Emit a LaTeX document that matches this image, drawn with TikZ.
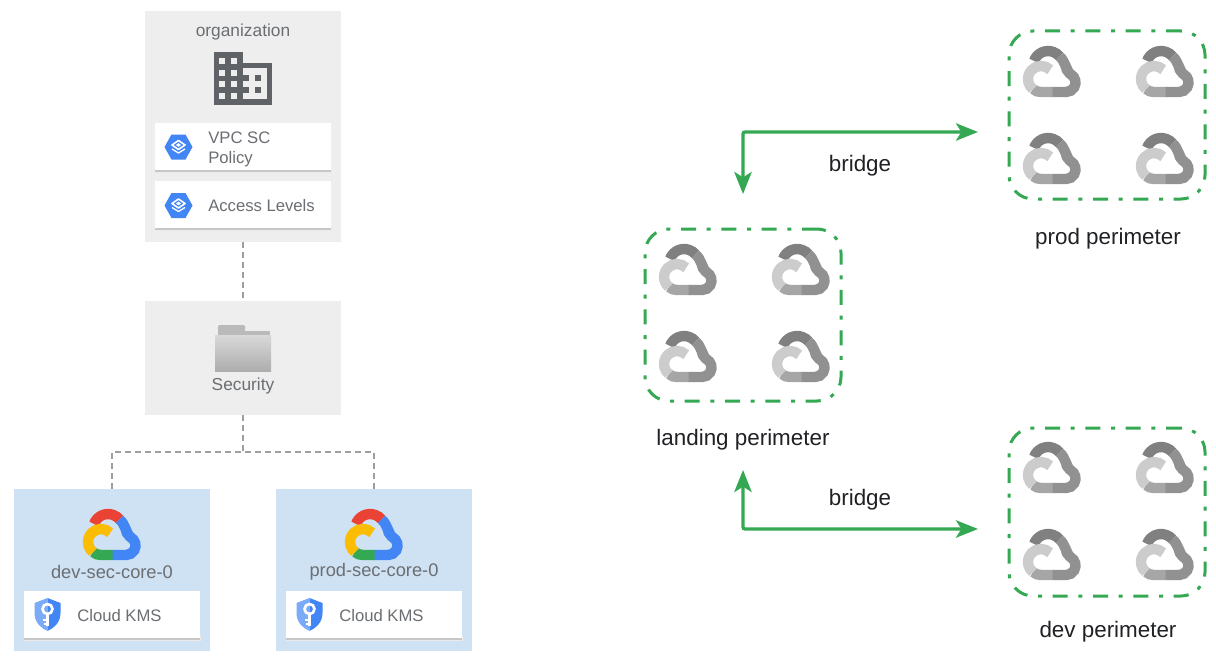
\documentclass[tikz,border=0pt]{standalone}
\usepackage{fontspec}
\setmainfont{Liberation Sans}
\usetikzlibrary{arrows.meta,positioning,calc}
\definecolor{panelgray}{HTML}{EEEEEE}
\definecolor{panelblue}{HTML}{CFE2F3}
\definecolor{gblue}{HTML}{4285F4}
\definecolor{gred}{HTML}{EA4335}
\definecolor{ggreen}{HTML}{34A853}
\definecolor{gyellow}{HTML}{FBBC04}
\definecolor{icondark}{HTML}{5F6368}
\definecolor{lbl}{HTML}{6B6E72}
\definecolor{lbldark}{HTML}{202124}
\definecolor{lineg}{HTML}{9E9E9E}
\newcommand{\cloudicon}[6]{%
 \begin{scope}[shift={(#1,-#2)},line width=7.8pt,line cap=butt]
  \draw[#3] (11,-14.9) arc[start angle=160,end angle=40,radius=15];
  \fill[#4] (37,-12) -- (50,-28) -- (47,-31) .. controls (42,-30.5) and (38.5,-28) .. (38,-22) -- cycle;
  \draw[#4] (36.5,-10.4) .. controls (42,-14.5) and (44,-26.5) .. (47.75,-28.3) arc[start angle=60,end angle=-90,radius=9.5] -- (29,-46);
  \draw[#5] (10,-43) .. controls (12,-45) and (15,-46) .. (18,-46) -- (29.5,-46);
  \draw[#6] (27.2,-23.8) arc[start angle=45,end angle=232,radius=13];
 \end{scope}}
\newcommand{\hexicon}[2]{%
 \begin{scope}[shift={(#1,-#2)}]
  \fill[gblue] (-14,0) -- (-7,12.5) -- (7,12.5) -- (14,0) -- (7,-12.5) -- (-7,-12.5) -- cycle;
  \draw[white,line width=1pt,line join=round] (-6.5,-2) -- (0,-6) -- (6.5,-2);
  \draw[white,line width=1.2pt,line join=round] (-6.5,2) -- (0,6.5) -- (6.5,2) -- (0,-2.5) -- cycle;
  \fill[white] (-2.6,2) -- (0,3.8) -- (2.6,2) -- (0,.2) -- cycle;
 \end{scope}}
\newcommand{\shieldicon}[2]{%
 \begin{scope}[shift={(#1,-#2)}]
  \fill[gblue!70!white] (0,0) -- (-13,-5) -- (-13,-15) .. controls (-13,-24) and (-7,-30) .. (0,-33) -- cycle;
  \fill[gblue] (0,0) -- (13,-5) -- (13,-15) .. controls (13,-24) and (7,-30) .. (0,-33) -- cycle;
  \draw[white,line width=2pt] (0,-11) circle[radius=5];
  \draw[white,line width=2.2pt] (0,-16) -- (0,-28);
  \draw[white,line width=1.8pt] (0,-22) -- (-4.5,-22) (0,-26) -- (-4,-26);
 \end{scope}}
\tikzset{
 x=.75pt,y=.75pt,
 panel/.style={fill=#1,draw=none,inner sep=0pt,outer sep=0pt,anchor=north west},
 card/.style={fill=white,draw=none,inner sep=0pt,outer sep=0pt,anchor=north west,minimum width=132pt,minimum height=35.5pt},
 cardtext/.style={text=lbl,font=\fontsize{12.5pt}{15pt}\selectfont,anchor=west,inner sep=0pt,align=left},
 paneltext/.style={text=lbl,font=\fontsize{13pt}{15pt}\selectfont,inner sep=0pt},
 projtext/.style={text=lbl,font=\fontsize{13.7pt}{15pt}\selectfont,inner sep=0pt},
 bigtext/.style={text=lbldark,font=\fontsize{16.8pt}{18pt}\selectfont,inner sep=0pt},
 perim/.style={draw=ggreen,line width=2.25pt,rounded corners=18pt,dash pattern=on 11.25pt off 8pt on 3pt off 8pt,inner sep=0pt,outer sep=0pt,anchor=north west,minimum width=147pt},
 dashline/.style={draw=lineg,line width=1.1pt,dash pattern=on 4.5pt off 3pt},
 bridgearrow/.style={draw=ggreen,line width=2.5pt,rounded corners=1.5pt,{Stealth[length=16.5pt,width=13pt,inset=4pt]}-{Stealth[length=16.5pt,width=13pt,inset=4pt]}},
}
\begin{document}
\begin{tikzpicture}
\useasboundingbox (0,0) rectangle (1216,-660);
% panels
\node[panel=panelgray,minimum width=147pt,minimum height=173.25pt] (org) at (145,-11) {};
\node[panel=panelgray,minimum width=147pt,minimum height=85.5pt] (sec) at (145,-301) {};
\node[panel=panelblue,minimum width=147pt,minimum height=121.5pt] (dev) at (14,-489) {};
\node[panel=panelblue,minimum width=147pt,minimum height=121.5pt] (prod) at (276,-489) {};
% dashed connectors
\draw[dashline] (org.south) -- (sec.north);
\coordinate (split) at ($(sec.south)+(0,-37)$);
\draw[dashline] (sec.south) -- (split);
\draw[dashline] (dev.north) |- (split) -| (prod.north);
% organization
\node[paneltext] (orgl) at (243,-32) {organization};
\fill[icondark] (214,-52) rectangle (243,-105);
\fill[icondark] (243,-63) rectangle (272,-105);
\fill[panelgray] (243,-68) rectangle (267,-99);
\foreach \yy in {58,70,81,93}{
 \fill[panelgray] (219,-\yy) rectangle +(6,-6);
 \fill[panelgray] (231,-\yy) rectangle +(6,-6);}
\foreach \yy in {75,87}{
 \fill[icondark] (243,-\yy) rectangle +(6,-6);
 \fill[icondark] (255,-\yy) rectangle +(6,-6);}
% cards
\foreach \xx/\yy in {155/123,155/181,24/591,286/591}{
 \fill[black!8] (\xx-.5,-\yy-45) rectangle (\xx+176.5,-\yy-50);
 \fill[black!22] (\xx,-\yy-46) rectangle (\xx+176,-\yy-48.8);
}
\node[card] (c1) at (155,-123) {};
\node[card] (c2) at (155,-181) {};
\node[card] (c3) at (24,-591) {};
\node[card] (c4) at (286,-591) {};
\hexicon{178.5}{147}
\hexicon{178.5}{205.5}
\node[cardtext] (vpc) at (208,-149) {VPC SC\\Policy};
\node[cardtext] (acc) at (208,-206) {Access Levels};
% folder
\fill[black!27,rounded corners=1pt] (218,-325) rectangle (245,-340);
\fill[black!27] (245,-331) rectangle (270,-340);
\shade[top color=black!15,bottom color=black!32] (215,-335) rectangle (271,-371);
\node[paneltext] (secl) at (243,-386) {Security};
% projects
\cloudicon{83}{509}{gred}{gblue}{ggreen}{gyellow}
\cloudicon{345}{509}{gred}{gblue}{ggreen}{gyellow}
\node[projtext] (devl) at (112,-572) {dev-sec-core-0};
\node[projtext] (prodl) at (374,-572) {prod-sec-core-0};
\shieldicon{47.5}{598}
\shieldicon{309.5}{598}
\node[cardtext] (k1) at (77,-616) {Cloud KMS};
\node[cardtext] (k2) at (339,-616) {Cloud KMS};
% perimeters
\node[perim,minimum height=129pt] (pland) at (645,-229) {};
\node[perim,minimum height=126pt] (pprod) at (1009,-31) {};
\node[perim,minimum height=126pt] (pdev) at (1009,-428) {};
\foreach \ox/\oy in {659/244,772/244,659/331,772/331,1023/46,1136/46,1023/133,1136/133,1023/442,1136/442,1023/529,1136/529}{
 \cloudicon{\ox}{\oy}{black!50}{black!43}{black!35}{black!20}
}
\node[bigtext] (lland) at (743,-440) {landing perimeter};
\node[bigtext] (lprod) at (1108,-239) {prod perimeter};
\node[bigtext] (ldev) at (1108,-632) {dev perimeter};
% bridges
\coordinate (a1) at (743,-194);
\coordinate (a2) at (978,-132);
\coordinate (b1) at (743,-470);
\coordinate (b2) at (978,-529);
\draw[bridgearrow] (a1) |- (a2);
\draw[bridgearrow] (b1) |- (b2);
\node[bigtext] (br1) at (860,-166) {bridge};
\node[bigtext] (br2) at (860,-500) {bridge};
\end{tikzpicture}
\end{document}
